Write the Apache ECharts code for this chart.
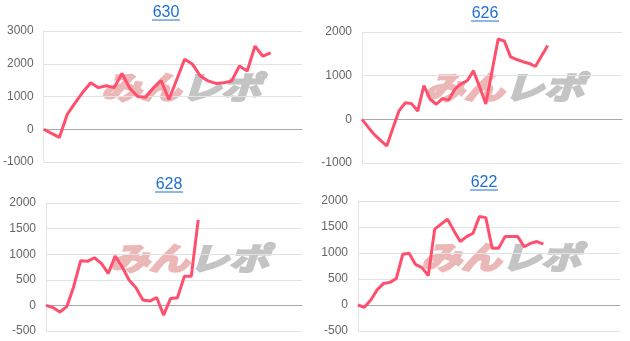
<!DOCTYPE html>
<html>
<head>
<meta charset="utf-8">
<script src="https://cdn.jsdelivr.net/npm/echarts@6/dist/echarts.min.js"></script>
<style>html,body{margin:0;padding:0;background:#fff}#c{width:630px;height:341px}</style>
</head>
<body>
<div id="c"></div>
<script>
// ---- data ----
const titles = ['630', '626', '628', '622'];
const slotCounts = [34, 43, 38, 42];
const values630 = [0, -125, -250, 450, 800, 1130, 1420, 1270, 1330, 1270, 1700, 1250, 1000, 980, 1250, 1490, 910, 1520, 2140, 1990, 1630, 1475, 1400, 1420, 1470, 1930, 1780, 2540, 2230, 2330];
const values626 = [0, -180, -350, -480, -610, -200, 200, 380, 360, 190, 770, 460, 345, 475, 440, 690, 810, 885, 1110, 745, 350, 1100, 1840, 1790, 1430, 1370, 1320, 1280, 1210, 1450, 1690];
const values628 = [0, -40, -130, -25, 365, 870, 860, 930, 820, 625, 965, 755, 495, 345, 105, 85, 155, -190, 135, 150, 570, 570, 1670];
const values622 = [0, -45, 95, 290, 415, 435, 510, 975, 995, 780, 720, 565, 1460, 1555, 1650, 1430, 1220, 1315, 1380, 1700, 1680, 1090, 1090, 1315, 1315, 1315, 1120, 1185, 1220, 1170];
const yMins = [-1000, -1000, -500, -500];
const yMaxs = [3000, 2000, 2000, 2000];
const yIntervals = [1000, 1000, 500, 500];

// ---- layout ----
const grids = [
  {left: 43, top: 31, width: 259, height: 131},
  {left: 362, top: 32, width: 260, height: 131},
  {left: 46, top: 203, width: 256, height: 128},
  {left: 358, top: 201, width: 262, height: 130}
];
const titlePos = [[166, 13], [485, 14], [169, 185], [484, 183]];
const wmPos = [[181, 87], [504, 87], [189, 258], [501, 257]];
const seriesValues = [values630, values626, values628, values622];

const LINK = '#1f6fd0';
const graphics = [];
titles.forEach((t, i) => {
  const [cx, cy] = titlePos[i];
  graphics.push({type: 'text', x: cx, y: cy, style: {text: t, fontSize: 16, fontFamily: 'Arial, "Liberation Sans"', fill: LINK, align: 'center', verticalAlign: 'middle'}});
  graphics.push({type: 'line', shape: {x1: cx - 14, y1: cy + 7, x2: cx + 14, y2: cy + 7}, style: {stroke: LINK, lineWidth: 1}});
  const [wx, wy] = wmPos[i];
  graphics.push({type: 'text', z: 0, x: wx, y: wy, scaleY: 0.78,
    style: {text: '{a|みん}{b|レポ}', align: 'center', verticalAlign: 'middle',
      rich: {
        a: {fontSize: 40, fontStyle: 'italic', fontWeight: 'bold', fontFamily: '"Noto Sans CJK JP"', fill: '#ebb7b7', stroke: '#ebb7b7', lineWidth: 3},
        b: {fontSize: 40, fontStyle: 'italic', fontWeight: 'bold', fontFamily: '"Noto Sans CJK JP"', fill: '#c4c4c4', stroke: '#c4c4c4', lineWidth: 3}
      }}});
});

const option = {
  animation: false,
  backgroundColor: '#fff',
  grid: grids,
  graphic: graphics,
  xAxis: slotCounts.map((n, i) => ({
    type: 'category', gridIndex: i, boundaryGap: false,
    data: Array.from({length: n}, (_, k) => String(k + 1)),
    axisLine: {show: true, onZero: true, lineStyle: {color: '#a8a8a8', width: 1}},
    axisTick: {show: false}, axisLabel: {show: false}, splitLine: {show: false}
  })),
  yAxis: yMins.map((mn, i) => ({
    type: 'value', gridIndex: i, min: mn, max: yMaxs[i], interval: yIntervals[i],
    axisLine: {show: true, lineStyle: {color: '#e4e4e4'}},
    axisTick: {show: false},
    axisLabel: {color: '#666', fontSize: 12, fontFamily: 'Arial, "Liberation Sans"', margin: 10, formatter: v => String(v)},
    splitLine: {lineStyle: {color: '#e2e2e2'}}
  })),
  series: seriesValues.map((v, i) => ({
    type: 'line', xAxisIndex: i, yAxisIndex: i, data: v,
    symbol: 'none', z: 5,
    lineStyle: {color: '#ff4f6d', width: 3}
  }))
};
echarts.init(document.getElementById('c')).setOption(option);
</script>
</body>
</html>
